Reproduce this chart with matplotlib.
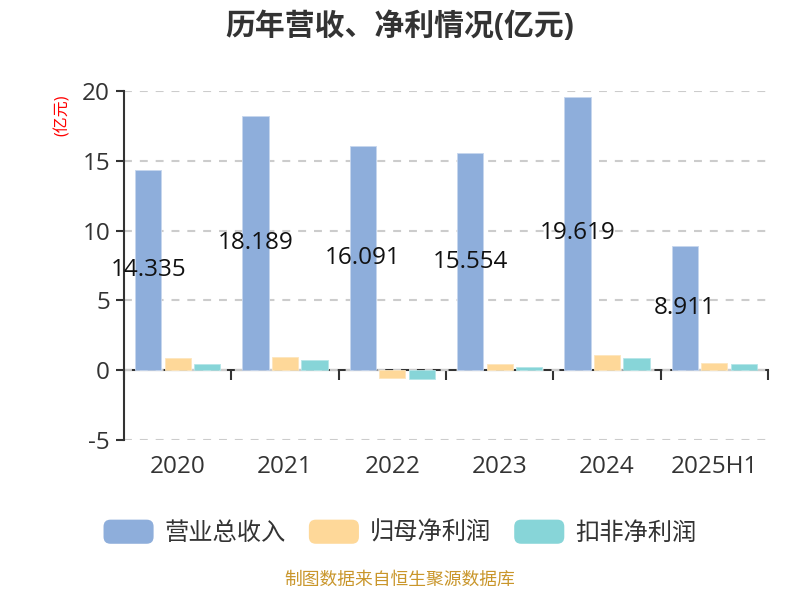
import numpy as np
import matplotlib
matplotlib.use('Agg')
from matplotlib import pyplot as plt
from matplotlib.patches import FancyBboxPatch, Patch
from matplotlib.legend_handler import HandlerPatch

plt.rcParams['font.family'] = ['Open Sans', 'Noto Sans CJK SC', 'DejaVu Sans']
plt.rcParams['axes.unicode_minus'] = False

# 数据
years = ['2020', '2021', '2022', '2023', '2024', '2025H1']
revenue = [14.335, 18.189, 16.091, 15.554, 19.619, 8.911]
net_profit = [0.86, 0.93, -0.55, 0.43, 1.12, 0.50]
deducted_profit = [0.48, 0.72, -0.64, 0.22, 0.86, 0.48]
series_names = ['营业总收入', '归母净利润', '扣非净利润']
colors = ['#8eaedb', '#fed899', '#87d5d8']


# 圆角图例
class RoundHandler(HandlerPatch):
    def create_artists(self, legend, orig_handle, xdescent, ydescent,
                       width, height, fontsize, trans):
        p = FancyBboxPatch((-xdescent, -ydescent), width, height,
                           boxstyle='round,pad=0,rounding_size=5',
                           facecolor=orig_handle.get_facecolor(),
                           edgecolor='none', transform=trans)
        return [p]


fig = plt.figure(figsize=(8, 6), dpi=100)
ax = fig.add_axes([0.155, 0.2667, 0.805, 0.5813])

x = np.arange(len(years))
w = 0.245
off = 0.275
ax.bar(x - off, revenue, w, color=colors[0], edgecolor='#c6d6ee', linewidth=0.6)
ax.bar(x, net_profit, w, color=colors[1], edgecolor='#fde6bd', linewidth=0.6)
ax.bar(x + off, deducted_profit, w, color=colors[2], edgecolor='#b5e6e8', linewidth=0.6)

for xi, v in zip(x, revenue):
    ax.text(xi - off, v / 2, '%.3f' % v, ha='center', va='center',
            fontsize=17.5, color='#111111')

ax.set_xlim(-0.5, len(years) - 0.5)
ax.set_ylim(-5, 20)
ax.set_yticks([-5, 0, 5, 10, 15, 20])
ax.yaxis.grid(True, color='#cccccc', linewidth=1.5, linestyle=(0, (3.8, 3.8)))
ax.set_axisbelow(True)

for s in ['top', 'right', 'bottom']:
    ax.spines[s].set_visible(False)
ax.spines['left'].set_color('#333333')
ax.spines['left'].set_linewidth(1.5)
ax.tick_params(axis='y', direction='out', length=6, width=1.5,
               color='#333333', labelsize=17.5, labelcolor='#333333', pad=4)
ax.set_xticks(x)
ax.set_xticklabels(years)
ax.tick_params(axis='x', length=0, labelsize=17.5, labelcolor='#333333', pad=11)

# 零轴
zero_ax = ax.secondary_xaxis(0.2)
zero_ax.set_xticks(np.arange(len(years) + 1) - 0.5)
zero_ax.set_xticklabels([])
zero_ax.tick_params(direction='out', length=7, width=1.5, color='#333333')
zero_ax.spines['bottom'].set_color('#333333')
zero_ax.spines['bottom'].set_linewidth(1.5)

fig.text(0.078, 0.808, '(亿元)', rotation=90, color='red', fontsize=11.5,
         ha='center', va='center')
fig.text(0.5, 0.955, '历年营收、净利情况(亿元)', ha='center', va='center',
         fontsize=21.5, fontweight='bold', color='#333333')

handles = [Patch(facecolor=c) for c in colors]
leg = fig.legend(handles, series_names, loc='center', bbox_to_anchor=(0.5, 0.112),
                 ncol=3, frameon=False, fontsize=17.5, handlelength=2.06,
                 handleheight=1.15, handletextpad=0.45, columnspacing=0.95,
                 handler_map={Patch: RoundHandler()})
for t in leg.get_texts():
    t.set_color('#333333')

fig.text(0.5, 0.018, '制图数据来自恒生聚源数据库', ha='center', va='bottom',
         fontsize=12.8, color='#c9962b')

fig.savefig('out.png', dpi=100)
